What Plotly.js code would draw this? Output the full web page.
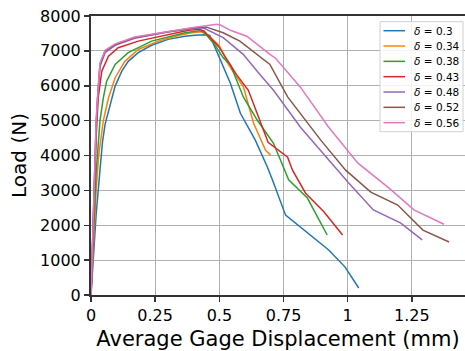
<!DOCTYPE html>
<html><head><meta charset="utf-8">
<script src="https://cdn.plot.ly/plotly-3.0.1.min.js"></script>
<style>html,body{margin:0;padding:0;background:#fff}#c{width:465px;height:351px}</style>
</head><body><div id="c"></div>
<script>
const deltas = ["0.3","0.34","0.38","0.43","0.48","0.52","0.56"];
const colors = ["#1f77b4","#ff7f0e","#2ca02c","#d62728","#9467bd","#8c564b","#e377c2"];

const x_d030 = [0,0.01,0.02,0.035,0.045,0.055,0.074,0.094,0.12,0.145,0.184,0.236,0.30,0.366,0.405,0.445,0.463,0.528,0.543,0.582,0.64,0.687,0.707,0.758,0.926,0.99,1.043];
const y_d030 = [0,1200,2300,3580,4400,4900,5460,5990,6420,6700,6950,7160,7330,7420,7450,7460,7440,6330,6070,5210,4440,3670,3300,2290,1290,800,200];

const x_d034 = [0,0.01,0.02,0.03,0.048,0.068,0.094,0.132,0.184,0.262,0.34,0.392,0.43,0.46,0.5,0.535,0.594,0.633,0.68,0.70];
const y_d034 = [0,1500,3000,4000,5000,5650,6230,6700,7040,7280,7440,7520,7550,7420,7150,6610,5960,4930,4150,4010];

const x_d038 = [0,0.01,0.02,0.035,0.048,0.061,0.094,0.145,0.236,0.366,0.42,0.44,0.48,0.515,0.543,0.594,0.648,0.711,0.75,0.77,0.843,0.92];
const y_d038 = [0,1800,3500,5000,5650,6130,6610,6950,7280,7520,7580,7540,7200,6800,6600,5670,5010,4350,3670,3300,2780,1720];

const x_d043 = [0,0.01,0.02,0.028,0.042,0.068,0.106,0.184,0.30,0.38,0.42,0.44,0.5,0.567,0.613,0.69,0.766,0.785,0.836,0.908,0.98];
const y_d043 = [0,2300,4500,5650,6420,6850,7090,7280,7470,7590,7620,7570,7100,6320,5870,4380,3950,3580,2920,2380,1720];

const x_d048 = [0,0.01,0.02,0.026,0.035,0.055,0.094,0.17,0.30,0.405,0.437,0.515,0.593,0.658,0.711,0.816,0.96,1.004,1.10,1.207,1.29];
const y_d048 = [0,2500,4800,5650,6550,6950,7160,7360,7540,7640,7660,7380,6900,6320,5870,4810,3580,3210,2440,2060,1580];

const x_d052 = [0,0.01,0.02,0.026,0.035,0.055,0.094,0.17,0.30,0.405,0.45,0.515,0.58,0.697,0.766,0.895,0.992,1.09,1.195,1.293,1.395];
const y_d052 = [0,2500,4900,5700,6620,7000,7180,7380,7550,7660,7680,7520,7280,6610,5680,4440,3580,2950,2580,1860,1520];

const x_d056 = [0,0.01,0.02,0.026,0.035,0.055,0.094,0.17,0.30,0.405,0.49,0.505,0.543,0.607,0.697,0.719,0.816,0.926,1.04,1.16,1.258,1.375];
const y_d056 = [0,2550,5000,5750,6650,7020,7200,7400,7560,7680,7760,7740,7590,7420,6900,6790,5960,4810,3780,3070,2440,2030];

const xs = [x_d030,x_d034,x_d038,x_d043,x_d048,x_d052,x_d056];
const ys = [y_d030,y_d034,y_d038,y_d043,y_d048,y_d052,y_d056];

const xTickVals = [0,0.25,0.5,0.75,1,1.25];
const xTickText = ["0","0.25","0.5","0.75","1","1.25"];
const yTickVals = [0,1000,2000,3000,4000,5000,6000,7000,8000];

const traces = deltas.map((d,i)=>({
  x: xs[i], y: ys[i], type:'scatter', mode:'lines',
  name: '<i>δ</i> = ' + d, showlegend:false,
  line:{color:colors[i], width:1.5}
}));

// manual legend (compact, matplotlib-like) in paper coordinates
const W = 374, H = 279, L0 = 91, T0 = 16;
const px = v => (v - L0) / W;
const py = v => (T0 + H - v) / H;
const shapes = [{type:'rect', xref:'paper', yref:'paper',
  x0:px(380), x1:px(463), y0:py(131.7), y1:py(21.7),
  line:{color:'#d0d0d0', width:1}, fillcolor:'rgba(255,255,255,0.85)', layer:'above'}];
const annotations = [];
deltas.forEach((d,i)=>{
  const rowY = 30.7 + 15.33*i;
  shapes.push({type:'line', xref:'paper', yref:'paper', x0:px(383.5), x1:px(405), y0:py(rowY), y1:py(rowY),
    line:{color:colors[i], width:1.5}, layer:'above'});
  annotations.push({xref:'paper', yref:'paper', x:px(412), y:py(rowY), xanchor:'left', yanchor:'middle',
    text:'<i>δ</i> = ' + d, showarrow:false, font:{size:10.5, family:'DejaVu Sans', color:'#000'}});
});

const layout = {
  width:465, height:351,
  margin:{l:L0, r:0, t:T0, b:56},
  paper_bgcolor:'#fff', plot_bgcolor:'#fff',
  font:{family:'DejaVu Sans', color:'#000'},
  showlegend:false,
  shapes: shapes, annotations: annotations,
  xaxis:{range:[0,1.457], tickvals:xTickVals, ticktext:xTickText,
    showgrid:true, gridcolor:'#b0b0b0', gridwidth:1,
    showline:true, linecolor:'#333', linewidth:2, mirror:true,
    ticks:'outside', ticklen:5, tickwidth:1.5, tickcolor:'#333',
    tickfont:{size:16}, zeroline:false,
    title:{text:'Average Gage Displacement (mm)', font:{size:21}, standoff:9}},
  yaxis:{range:[0,8000], tickvals:yTickVals,
    showgrid:true, gridcolor:'#b0b0b0', gridwidth:1,
    showline:true, linecolor:'#333', linewidth:2, mirror:false,
    ticks:'outside', ticklen:5, tickwidth:1.5, tickcolor:'#333',
    tickfont:{size:16}, zeroline:false,
    title:{text:'Load (N)', font:{size:20}, standoff:8}}
};
Plotly.newPlot('c', traces, layout, {displayModeBar:false, staticPlot:true});
</script></body></html>
